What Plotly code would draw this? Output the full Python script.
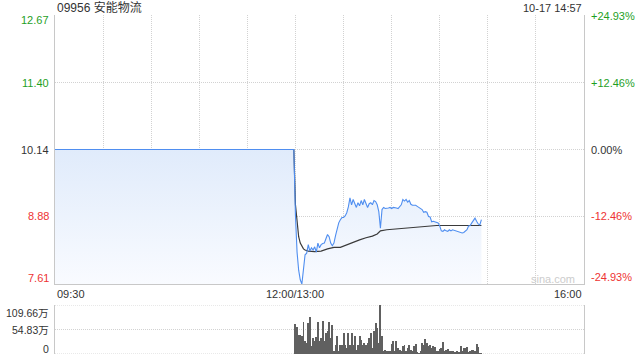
import plotly.graph_objects as go

# ---------------- data ----------------
stock_title = "09956 安能物流"
timestamp = "10-17 14:57"
prev_close = 10.14
price_ticks = [12.67, 11.40, 10.14, 8.88, 7.61]
price_tick_text = ["12.67", "11.40", "10.14", "8.88", "7.61"]
pct_tick_text = ["+24.93%", "+12.46%", "0.00%", "-12.46%", "-24.93%"]
vol_ticks = [109.66, 54.83, 0]
vol_tick_text = ["109.66万", "54.83万", "0"]
time_labels = ["09:30", "12:00/13:00", "16:00"]
watermark = "sina.com"

# morning: no trades, line stays at previous close
morning_times = ["09:30", "11:59"]
morning_prices = [10.14, 10.14]

# afternoon minute prices starting 13:00
afternoon_start = "13:00"
afternoon_prices = [
    8.90, 8.21, 7.87, 7.69, 7.61, 7.87, 8.16, 8.19, 8.35, 8.23,
    8.29, 8.25, 8.31, 8.21, 8.38, 8.29, 8.35, 8.37, 8.38, 8.46,
    8.54, 8.50, 8.38, 8.33, 8.38, 8.52, 8.67, 8.76, 8.82, 8.86,
    8.86, 8.89, 8.95, 9.06, 9.23, 9.10, 9.20, 9.14, 9.05, 9.14,
    9.08, 9.18, 9.10, 9.20, 9.14, 9.05, 9.12, 9.14, 9.10, 9.18,
    9.16, 9.10, 8.97, 8.66, 9.01, 9.05, 9.03, 9.03, 9.04, 9.05,
    9.03, 9.05, 9.05, 9.04, 9.03, 9.06, 9.10, 9.20, 9.17, 9.20,
    9.15, 9.18, 9.11, 9.09, 9.09, 9.09, 9.07, 9.05, 9.03, 9.01,
    8.96, 8.97, 8.96, 8.88, 8.87, 8.78, 8.79, 8.78, 8.78, 8.76,
    8.70, 8.61, 8.60, 8.63, 8.61, 8.60, 8.63, 8.61, 8.63, 8.62,
    8.61, 8.60, 8.60, 8.59, 8.57, 8.58, 8.60, 8.63, 8.70, 8.71,
    8.76, 8.80, 8.85, 8.79, 8.74, 8.72, 8.82,
]

avg_times = ["09:30", "11:59", "13:00", "13:01", "13:02", "13:03", "13:04", "13:05",
             "13:06", "13:08", "13:12", "13:16", "13:20", "13:24", "13:28", "13:32",
             "13:36", "13:40", "13:44", "13:48", "13:51", "13:53", "13:57", "14:04",
             "14:10", "14:16", "14:22", "14:28", "14:34", "14:56"]
avg_prices = [10.14, 10.14, 9.10, 8.72, 8.50, 8.38, 8.31, 8.27,
              8.25, 8.23, 8.22, 8.23, 8.27, 8.30, 8.30, 8.35,
              8.39, 8.44, 8.48, 8.51, 8.55, 8.61, 8.63, 8.65,
              8.67, 8.68, 8.70, 8.71, 8.71, 8.71]

# afternoon minute volumes (万股) starting 13:00
volumes = [
    66.7, 61.5, 43.0, 41.5, 39.3, 72.7, 29.7, 24.5, 69.0, 83.8,
    17.1, 35.6, 28.2, 37.1, 72.7, 28.2, 35.6, 74.2, 28.2, 46.7,
    50.4, 72.7, 35.6, 65.3, 7.4, 20.8, 39.3, 5.9, 20.8, 19.3,
    46.7, 20.8, 13.3, 46.7, 20.8, 46.7, 20.8, 39.3, 9.6, 20.8,
    39.3, 31.9, 20.8, 24.5, 20.8, 24.5, 35.6, 46.7, 13.3, 50.4,
    69.0, 57.8, 24.5, 109.66, 39.3, 5.9, 9.6, 7.4,
    7.4, 7.4, 22.2, 29.7, 5.9, 28.2, 13.3, 9.6, 5.9, 17.1,
    20.8, 5.9, 13.3, 20.8, 9.6, 7.4, 17.1, 22.2, 4.4, 2.2,
    7.4, 24.5, 20.8, 34.1, 24.5, 17.1, 19.3, 13.3, 17.1, 14.8,
    7.4, 5.9, 11.9, 13.3, 26.0, 7.4, 9.6, 11.9, 7.4, 5.9,
    7.4, 4.4, 4.4, 7.4, 3.0, 17.1, 7.4, 13.3, 13.3, 14.8,
    4.4, 5.9, 9.6, 9.6, 5.9, 22.2, 14.8, 1.5, 0.5,
]


# ---------------- helpers ----------------
def session_minute(hhmm):
    """Trading-minute index: 09:30 -> 0, 12:00/13:00 -> 150, 16:00 -> 330."""
    h, m = map(int, hhmm.split(":"))
    t = h * 60 + m
    return t - 570 if t <= 720 else t - 780 + 150


SESSION_LEN = session_minute("16:00")
start_idx = session_minute(afternoon_start)
price_x = [session_minute(t) for t in morning_times] + \
          [start_idx + i for i in range(len(afternoon_prices))]
price_y = morning_prices + afternoon_prices
avg_x = [session_minute(t) for t in avg_times]
vol_x = [start_idx + i for i in range(len(volumes))]
label_x = [session_minute(t.split("/")[0]) for t in time_labels]

W, H = 640, 360
L, R = 55, 584
MAIN_T, MAIN_B = 15, 284
VOL_T, VOL_B = 305, 354

GREEN = "#1f9f1f"
RED = "#ee3333"
DARK = "#333333"
GRID = "#d2d2d2"
BORDER = "#c8c8c8"
FONT = "Liberation Sans, Arial, Noto Sans CJK SC, sans-serif"

fig = go.Figure()

# fill under price line (gradient)
fig.add_trace(go.Scatter(
    x=price_x, y=price_y, mode="lines", line=dict(width=0),
    fill="tozeroy",
    fillgradient=dict(type="vertical",
                      colorscale=[[0, "#f9fbff"], [1, "#e0ebfb"]],
                      start=price_ticks[-1], stop=prev_close),
    hoverinfo="skip", showlegend=False, xaxis="x", yaxis="y"))

# average price line
fig.add_trace(go.Scatter(
    x=avg_x, y=avg_prices, mode="lines",
    line=dict(color="#3a3a3a", width=1.2),
    hoverinfo="skip", showlegend=False, xaxis="x", yaxis="y"))

# price line
fig.add_trace(go.Scatter(
    x=price_x, y=price_y, mode="lines",
    line=dict(color="#4f8ef0", width=1.1),
    hoverinfo="skip", showlegend=False, xaxis="x", yaxis="y"))

# volume bars
fig.add_trace(go.Bar(
    x=vol_x, y=volumes, width=0.58,
    marker=dict(color="#606060", line=dict(width=0)),
    hoverinfo="skip", showlegend=False, xaxis="x2", yaxis="y2"))

xdom = [L / W, R / W]
fig.update_layout(
    width=W, height=H,
    margin=dict(l=0, r=0, t=0, b=0),
    paper_bgcolor="white", plot_bgcolor="white",
    showlegend=False,
    font=dict(family=FONT, size=11, color=DARK),
    xaxis=dict(domain=xdom, range=[0, SESSION_LEN], anchor="y",
               tickvals=list(range(30, SESSION_LEN, 30)), showticklabels=False,
               ticks="", showgrid=True, gridcolor=GRID, griddash="1px,1px",
               gridwidth=1, zeroline=False, showline=True, linecolor=BORDER,
               linewidth=1, fixedrange=True),
    yaxis=dict(domain=[1 - MAIN_B / H, 1 - MAIN_T / H],
               range=[price_ticks[-1], price_ticks[0]], anchor="x",
               tickvals=price_ticks[1:4], showticklabels=False, ticks="",
               showgrid=True, gridcolor=GRID, griddash="1px,1px", gridwidth=1,
               zeroline=False, showline=True, mirror=True, linecolor=BORDER,
               linewidth=1, fixedrange=True),
    xaxis2=dict(domain=xdom, range=[0, SESSION_LEN], anchor="y2",
                showticklabels=False, ticks="", showgrid=False,
                zeroline=False, showline=False, fixedrange=True),
    yaxis2=dict(domain=[1 - VOL_B / H, 1 - VOL_T / H],
                range=[vol_ticks[-1], vol_ticks[0]], anchor="x2",
                showticklabels=False, ticks="", showgrid=False,
                zeroline=False, showline=True, mirror=True, linecolor=BORDER,
                linewidth=1, fixedrange=True),
    bargap=0,
)

# dotted horizontal lines in the volume panel
for v in vol_ticks:
    fig.add_shape(type="line", xref="x2 domain", yref="y2",
                  x0=0, x1=1, y0=v, y1=v,
                  line=dict(color=GRID, width=1, dash="1px,1px"), layer="below")

ann = []
# title and timestamp
ann.append(dict(text=stock_title, xref="paper", yref="paper", x=L / W, y=1 - 7.5 / H,
                xanchor="left", yanchor="middle", showarrow=False,
                font=dict(size=12, color=DARK)))
ann.append(dict(text=timestamp, xref="paper", yref="paper", x=R / W, y=1 - 7.5 / H,
                xanchor="right", yanchor="middle", showarrow=False,
                font=dict(size=11, color=DARK)))

# price labels (left) and percent labels (right)
left_colors = [GREEN, GREEN, DARK, RED, RED]
left_shift = [-5, 0, 0, 0, 6]
right_shift = [-1, 0, 0, 0, 7]
for i, v in enumerate(price_ticks):
    ann.append(dict(text=price_tick_text[i], xref="paper", yref="y", x=51 / W, y=v,
                    xanchor="right", yanchor="middle", yshift=left_shift[i],
                    showarrow=False, font=dict(size=11, color=left_colors[i])))
    ann.append(dict(text=pct_tick_text[i], xref="paper", yref="y", x=589 / W, y=v,
                    xanchor="left", yanchor="middle", yshift=right_shift[i],
                    showarrow=False, font=dict(size=11, color=left_colors[i])))

# volume labels
vol_shift = [-8, 0, 5]
for i, v in enumerate(vol_ticks):
    ann.append(dict(text=vol_tick_text[i], xref="paper", yref="y2", x=51 / W, y=v,
                    xanchor="right", yanchor="middle", yshift=vol_shift[i],
                    showarrow=False, font=dict(size=10.5, color=DARK)))

# time labels
anchors = ["left", "center", "right"]
for i, t in enumerate(time_labels):
    ann.append(dict(text=t, xref="x", yref="paper", x=label_x[i], y=1 - 294 / H,
                    xanchor=anchors[i], yanchor="middle", showarrow=False,
                    font=dict(size=11, color=DARK)))

# watermark
ann.append(dict(text=watermark, xref="paper", yref="paper", x=577 / W, y=1 - 279 / H,
                xanchor="right", yanchor="middle", showarrow=False,
                font=dict(size=11, color="#cccccc")))

fig.update_layout(annotations=ann)
fig.write_html("out.html")
